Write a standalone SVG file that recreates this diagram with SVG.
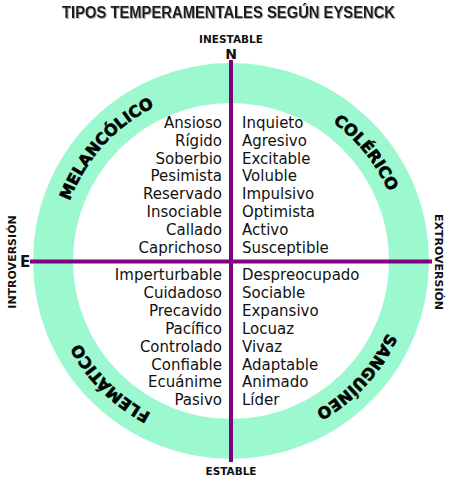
<svg xmlns="http://www.w3.org/2000/svg" width="455" height="480" viewBox="0 0 455 480">
  <style>
    .title { font-family: "Liberation Sans", Arial, sans-serif; font-weight: bold; font-size: 16px; fill: #1a1a1a; }
    .axis { font-family: "DejaVu Sans", sans-serif; font-weight: bold; font-size: 10.5px; fill: #111; text-anchor: middle; }
    .side { font-family: "DejaVu Sans", sans-serif; font-weight: bold; font-size: 11px; fill: #111; text-anchor: middle; }
    .pole { font-family: "DejaVu Sans", sans-serif; font-weight: bold; font-size: 14px; fill: #111; }
    .w { font-family: "DejaVu Sans", sans-serif; font-size: 15px; fill: #111; }
    .wl { text-anchor: end; }
    .q { font-family: "DejaVu Sans", sans-serif; font-weight: bold; font-size: 16px; fill: #000; stroke: #000; stroke-width: 0.6; text-anchor: middle; }
    .axisline { stroke: #800080; stroke-width: 4; fill: none; }
  </style>
  <defs>
    <filter id="shadow" x="-5%" y="-30%" width="110%" height="160%">
      <feDropShadow dx="1" dy="1" stdDeviation="0.7" flood-color="#777" flood-opacity="0.6"/>
    </filter>
    <path id="ringpath" d="M 59 261 A 172 172 0 1 1 403 261 A 172 172 0 1 1 59 261"/>
  </defs>
  <rect width="455" height="480" fill="#fff"/>

  <g id="title">
    <text class="title" x="228.5" y="17.5" text-anchor="middle" textLength="333" lengthAdjust="spacingAndGlyphs" filter="url(#shadow)">TIPOS TEMPERAMENTALES SEGÚN EYSENCK</text>
  </g>

  <g id="ring">
    <circle cx="231" cy="261" r="178" fill="none" stroke="#9cf8cf" stroke-width="40"/>
  </g>

  <g id="connectors">
    <line class="axisline" x1="231" y1="60" x2="231" y2="462"/>
    <line class="axisline" x1="30" y1="261.5" x2="432" y2="261.5"/>
  </g>

  <g id="axis-n">
    <text class="axis" x="231" y="43">INESTABLE</text>
    <text class="pole" x="231" y="58.5" text-anchor="middle">N</text>
  </g>
  <g id="axis-s">
    <text class="axis" x="231" y="475">ESTABLE</text>
  </g>
  <g id="axis-e-intro">
    <text class="side" transform="translate(15.5 262) rotate(-90)">INTROVERSIÓN</text>
    <text class="pole" x="20" y="267" style="font-size:15px">E</text>
  </g>
  <g id="axis-extro">
    <text class="side" transform="translate(434.5 262) rotate(90)">EXTROVERSIÓN</text>
  </g>

  <g id="melancolico">
    <text class="q"><textPath href="#ringpath" startOffset="126">MELANCÓLICO</textPath></text>
    <text class="w wl" x="222" y="128">Ansioso</text>
    <text class="w wl" x="222" y="145.8">Rígido</text>
    <text class="w wl" x="222" y="163.6">Soberbio</text>
    <text class="w wl" x="222" y="181.4">Pesimista</text>
    <text class="w wl" x="222" y="199.2">Reservado</text>
    <text class="w wl" x="222" y="217">Insociable</text>
    <text class="w wl" x="222" y="234.8">Callado</text>
    <text class="w wl" x="222" y="252.6">Caprichoso</text>
  </g>

  <g id="colerico">
    <text class="q"><textPath href="#ringpath" startOffset="424">COLÉRICO</textPath></text>
    <text class="w" x="242" y="128">Inquieto</text>
    <text class="w" x="242" y="145.8">Agresivo</text>
    <text class="w" x="242" y="163.6">Excitable</text>
    <text class="w" x="242" y="181.4">Voluble</text>
    <text class="w" x="242" y="199.2">Impulsivo</text>
    <text class="w" x="242" y="217">Optimista</text>
    <text class="w" x="242" y="234.8">Activo</text>
    <text class="w" x="242" y="252.6">Susceptible</text>
  </g>

  <g id="flematico">
    <text class="q"><textPath href="#ringpath" startOffset="944">FLEMÁTICO</textPath></text>
    <text class="w wl" x="222" y="280">Imperturbable</text>
    <text class="w wl" x="222" y="297.9">Cuidadoso</text>
    <text class="w wl" x="222" y="315.8">Precavido</text>
    <text class="w wl" x="222" y="333.7">Pacífico</text>
    <text class="w wl" x="222" y="351.6">Controlado</text>
    <text class="w wl" x="222" y="369.5">Confiable</text>
    <text class="w wl" x="222" y="387.4">Ecuánime</text>
    <text class="w wl" x="222" y="405.3">Pasivo</text>
  </g>

  <g id="sanguineo">
    <text class="q"><textPath href="#ringpath" startOffset="668">SANGUÍNEO</textPath></text>
    <text class="w" x="242" y="280">Despreocupado</text>
    <text class="w" x="242" y="297.9">Sociable</text>
    <text class="w" x="242" y="315.8">Expansivo</text>
    <text class="w" x="242" y="333.7">Locuaz</text>
    <text class="w" x="242" y="351.6">Vivaz</text>
    <text class="w" x="242" y="369.5">Adaptable</text>
    <text class="w" x="242" y="387.4">Animado</text>
    <text class="w" x="242" y="405.3">Líder</text>
  </g>
</svg>
